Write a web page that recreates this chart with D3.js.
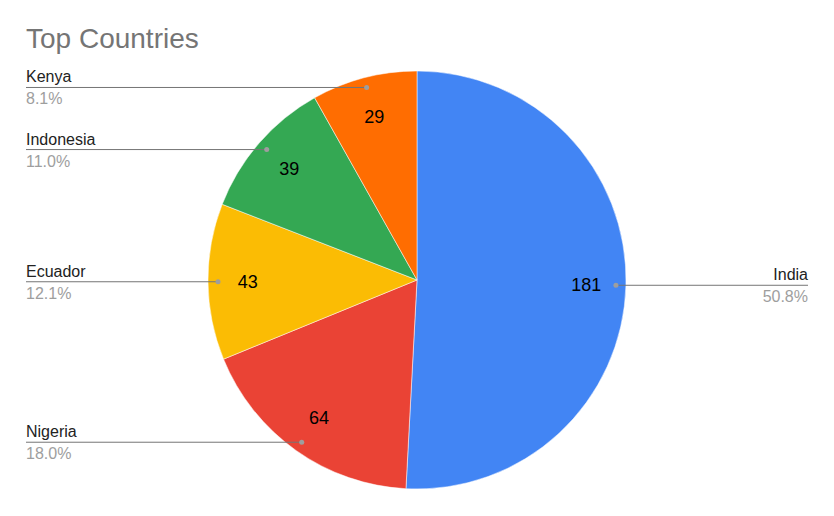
<!DOCTYPE html>
<html>
<head>
<meta charset="utf-8">
<script src="https://cdn.jsdelivr.net/npm/d3@7"></script>
<style>
  body { margin: 0; background: #fff; }
  svg { font-family: "Liberation Sans", Arial, sans-serif; }
</style>
</head>
<body>
<svg id="chart" width="834" height="516"></svg>
<script>
// chart data
const countries = ['India', 'Nigeria', 'Ecuador', 'Indonesia', 'Kenya'];
const counts = [181, 64, 43, 39, 29];
const colors = ['#4285f4', '#ea4335', '#fbbc04', '#34a853', '#ff6d01'];

const width = 834, height = 516;
const cx = 417, cy = 280, radius = 209;

const svg = d3.select('#chart');

svg.append('text')
    .attr('x', 26)
    .attr('y', 48)
    .attr('font-size', 28)
    .attr('fill', '#757575')
    .text('Top Countries');

const total = d3.sum(counts);
const rows = countries.map((c, i) => ({ name: c, value: counts[i], color: colors[i] }));

const pie = d3.pie().value(d => d.value).sort(null);
const arcs = pie(rows);

const arc = d3.arc().innerRadius(0).outerRadius(radius);
const dotArc = d3.arc().innerRadius(radius - 10).outerRadius(radius - 10);
const valueArc = d3.arc().innerRadius(radius * 0.81).outerRadius(radius * 0.81);

const g = svg.append('g').attr('transform', `translate(${cx},${cy})`);

g.selectAll('path.slice')
    .data(arcs)
    .join('path')
    .attr('class', 'slice')
    .attr('d', arc)
    .attr('fill', d => d.data.color)
    .attr('stroke', '#fff')
    .attr('stroke-width', 0.5);

// value labels inside slices
g.selectAll('text.value')
    .data(arcs)
    .join('text')
    .attr('class', 'value')
    .attr('transform', d => `translate(${valueArc.centroid(d)})`)
    .attr('text-anchor', 'middle')
    .attr('dy', '0.35em')
    .attr('font-size', 18)
    .attr('fill', '#000')
    .text(d => d.data.value);

// leader lines and outside labels
const fmt = d3.format('.1%');
const leftX = 26 - cx, rightX = 808 - cx;

const labels = g.selectAll('g.label')
    .data(arcs)
    .join('g')
    .attr('class', 'label');

labels.each(function (d) {
    const [px, py] = dotArc.centroid(d);
    const onRight = px > 0;
    const lx = onRight ? rightX : leftX;
    const sel = d3.select(this);

    sel.append('line')
        .attr('x1', px).attr('y1', py)
        .attr('x2', lx).attr('y2', py)
        .attr('stroke', '#757575')
        .attr('stroke-width', 1);

    sel.append('circle')
        .attr('cx', px).attr('cy', py)
        .attr('r', 2.5)
        .attr('fill', '#9e9e9e');

    sel.append('text')
        .attr('x', lx).attr('y', py - 5)
        .attr('text-anchor', onRight ? 'end' : 'start')
        .attr('font-size', 16)
        .attr('fill', '#222')
        .text(d.data.name);

    sel.append('text')
        .attr('x', lx).attr('y', py + 17)
        .attr('text-anchor', onRight ? 'end' : 'start')
        .attr('font-size', 16)
        .attr('fill', '#9e9e9e')
        .text(fmt(d.data.value / total));
});
</script>
</body>
</html>
